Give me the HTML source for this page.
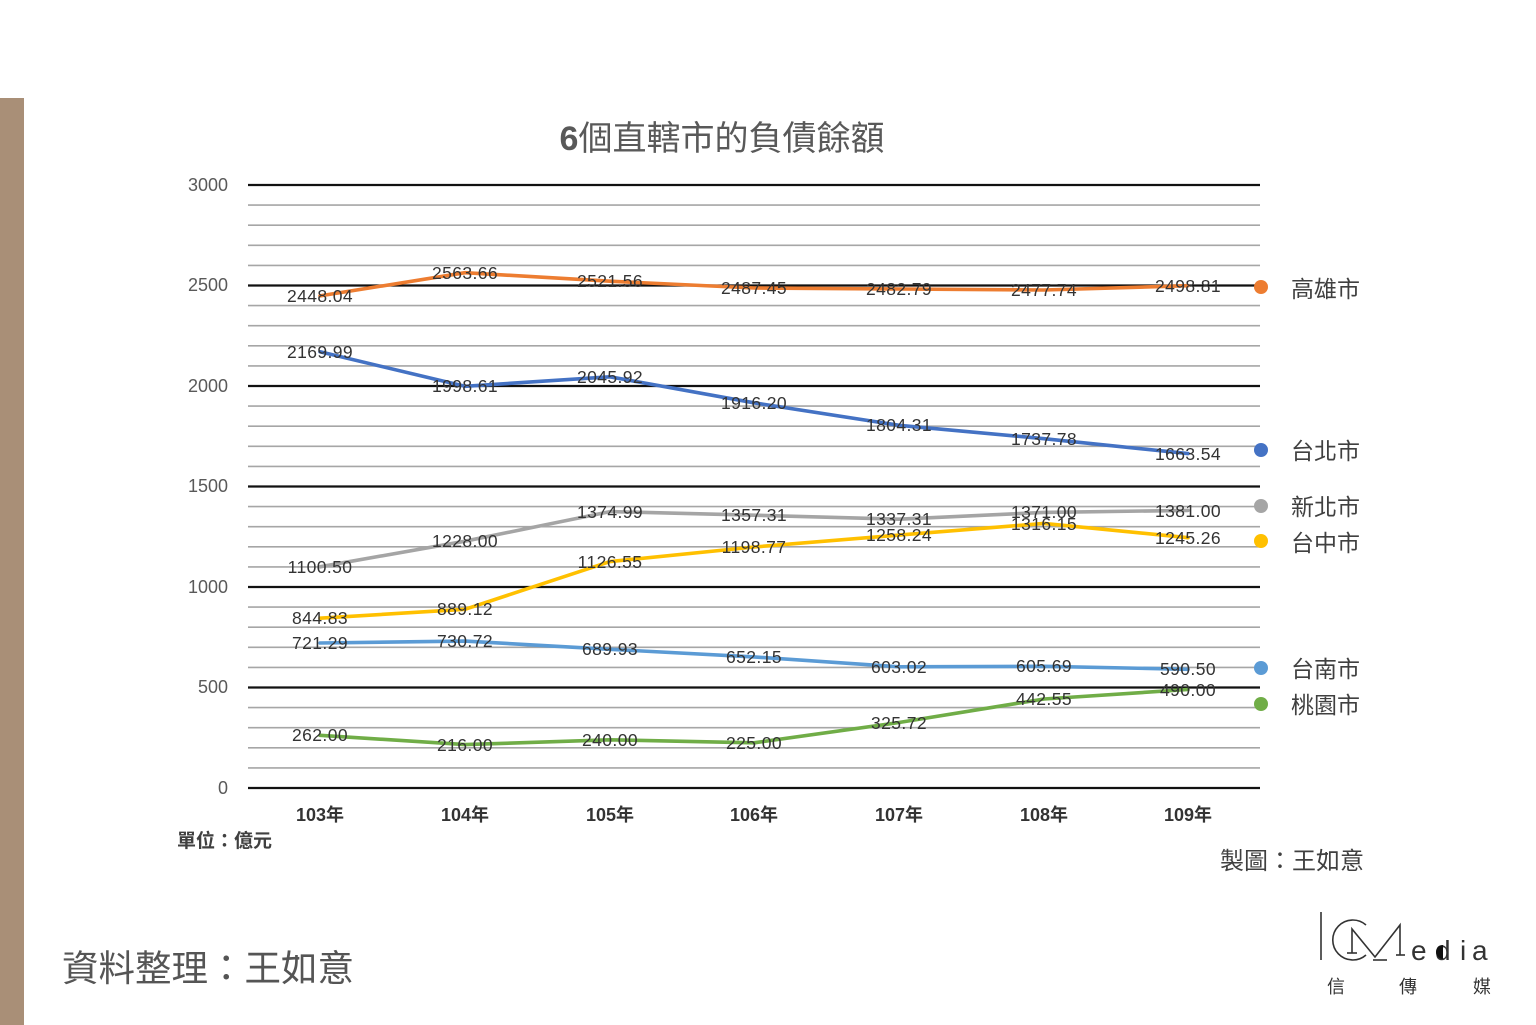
<!DOCTYPE html>
<html><head><meta charset="utf-8"><style>
html,body{margin:0;padding:0;background:#fff;}
svg{display:block;}
text{font-family:"Liberation Sans","Noto Sans CJK TC",sans-serif;}
</style></head><body>
<svg width="1536" height="1025" viewBox="0 0 1536 1025" xmlns="http://www.w3.org/2000/svg">
<rect x="0" y="0" width="1536" height="1025" fill="#fff"/>
<rect x="0" y="98" width="24" height="927" fill="#a98f77"/>

<!-- title -->
<text x="722" y="150" text-anchor="middle" font-size="34" fill="#595959"><tspan font-weight="bold">6</tspan>個直轄市的負債餘額</text>

<!-- minor gridlines -->
<g stroke="#a6a6a6" stroke-width="1.6">
<line x1="248" x2="1260" y1="767.9" y2="767.9"/><line x1="248" x2="1260" y1="747.8" y2="747.8"/><line x1="248" x2="1260" y1="727.7" y2="727.7"/><line x1="248" x2="1260" y1="707.6" y2="707.6"/>
<line x1="248" x2="1260" y1="667.4" y2="667.4"/><line x1="248" x2="1260" y1="647.3" y2="647.3"/><line x1="248" x2="1260" y1="627.2" y2="627.2"/><line x1="248" x2="1260" y1="607.1" y2="607.1"/>
<line x1="248" x2="1260" y1="566.9" y2="566.9"/><line x1="248" x2="1260" y1="546.8" y2="546.8"/><line x1="248" x2="1260" y1="526.7" y2="526.7"/><line x1="248" x2="1260" y1="506.6" y2="506.6"/>
<line x1="248" x2="1260" y1="466.4" y2="466.4"/><line x1="248" x2="1260" y1="446.3" y2="446.3"/><line x1="248" x2="1260" y1="426.2" y2="426.2"/><line x1="248" x2="1260" y1="406.1" y2="406.1"/>
<line x1="248" x2="1260" y1="365.9" y2="365.9"/><line x1="248" x2="1260" y1="345.8" y2="345.8"/><line x1="248" x2="1260" y1="325.7" y2="325.7"/><line x1="248" x2="1260" y1="305.6" y2="305.6"/>
<line x1="248" x2="1260" y1="265.4" y2="265.4"/><line x1="248" x2="1260" y1="245.3" y2="245.3"/><line x1="248" x2="1260" y1="225.2" y2="225.2"/><line x1="248" x2="1260" y1="205.1" y2="205.1"/>
</g>
<!-- major gridlines -->
<g stroke="#111" stroke-width="2.3">
<line x1="248" x2="1260" y1="788" y2="788"/><line x1="248" x2="1260" y1="687.5" y2="687.5"/><line x1="248" x2="1260" y1="587" y2="587"/>
<line x1="248" x2="1260" y1="486.5" y2="486.5"/><line x1="248" x2="1260" y1="386" y2="386"/><line x1="248" x2="1260" y1="285.5" y2="285.5"/><line x1="248" x2="1260" y1="185" y2="185"/>
</g>

<!-- y axis labels -->
<g font-size="18" fill="#595959" text-anchor="end">
<text x="228" y="191">3000</text><text x="228" y="291">2500</text><text x="228" y="392">2000</text>
<text x="228" y="492">1500</text><text x="228" y="593">1000</text><text x="228" y="693">500</text><text x="228" y="794">0</text>
</g>

<!-- x axis labels -->
<g font-size="18" fill="#333" text-anchor="middle" font-weight="bold">
<text x="320" y="821">103年</text><text x="465" y="821">104年</text><text x="610" y="821">105年</text>
<text x="754" y="821">106年</text><text x="899" y="821">107年</text><text x="1044" y="821">108年</text><text x="1188" y="821">109年</text>
</g>

<!-- series lines -->
<g fill="none" stroke-width="3.6" stroke-linejoin="round" stroke-linecap="round">
<polyline stroke="#ed7d31" points="320,295.9 465,272.7 610,281.2 754,288 899,289 1044,290 1188,285.7"/>
<polyline stroke="#4472c4" points="320,351.8 465,386.3 610,376.8 754,402.8 899,425.3 1044,438.7 1188,453.6"/>
<polyline stroke="#a5a5a5" points="320,566.8 465,541.2 610,511.6 754,515.2 899,519.2 1044,512.4 1188,510.4"/>
<polyline stroke="#ffc000" points="320,618.2 465,609.3 610,561.6 754,547 899,535.1 1044,523.4 1188,537.7"/>
<polyline stroke="#5b9bd5" points="320,643 465,641.1 610,649.3 754,656.9 899,666.8 1044,666.3 1188,669.3"/>
<polyline stroke="#70ad47" points="320,735.3 465,744.6 610,739.8 754,742.8 899,722.5 1044,699 1188,689.5"/>
</g>

<!-- data labels -->
<g font-size="17.5" fill="#333" text-anchor="middle" letter-spacing="0.4">
<text x="320" y="302">2448.04</text><text x="465" y="279">2563.66</text><text x="610" y="287">2521.56</text><text x="754" y="294">2487.45</text><text x="899" y="295">2482.79</text><text x="1044" y="296">2477.74</text><text x="1188" y="292">2498.81</text>
<text x="320" y="358">2169.99</text><text x="465" y="392">1998.61</text><text x="610" y="383">2045.92</text><text x="754" y="409">1916.20</text><text x="899" y="431">1804.31</text><text x="1044" y="445">1737.78</text><text x="1188" y="460">1663.54</text>
<text x="320" y="573">1100.50</text><text x="465" y="547">1228.00</text><text x="610" y="518">1374.99</text><text x="754" y="521">1357.31</text><text x="899" y="525">1337.31</text><text x="1044" y="518">1371.00</text><text x="1188" y="517">1381.00</text>
<text x="320" y="624">844.83</text><text x="465" y="615">889.12</text><text x="610" y="568">1126.55</text><text x="754" y="553">1198.77</text><text x="899" y="541">1258.24</text><text x="1044" y="530">1316.15</text><text x="1188" y="544">1245.26</text>
<text x="320" y="649">721.29</text><text x="465" y="647">730.72</text><text x="610" y="655">689.93</text><text x="754" y="663">652.15</text><text x="899" y="673">603.02</text><text x="1044" y="672">605.69</text><text x="1188" y="675">590.50</text>
<text x="320" y="741">262.00</text><text x="465" y="751">216.00</text><text x="610" y="746">240.00</text><text x="754" y="749">225.00</text><text x="899" y="729">325.72</text><text x="1044" y="705">442.55</text><text x="1188" y="696">490.00</text>
</g>

<!-- legend -->
<circle cx="1261" cy="287" r="7" fill="#ed7d31"/>
<circle cx="1261" cy="450" r="7" fill="#4472c4"/>
<circle cx="1261" cy="506" r="7" fill="#a5a5a5"/>
<circle cx="1261" cy="541" r="7" fill="#ffc000"/>
<circle cx="1261" cy="668" r="7" fill="#5b9bd5"/>
<circle cx="1261" cy="704" r="7" fill="#70ad47"/>
<g font-size="23" fill="#404040">
<text x="1291" y="297">高雄市</text>
<text x="1291" y="459">台北市</text>
<text x="1291" y="515">新北市</text>
<text x="1291" y="551">台中市</text>
<text x="1291" y="677">台南市</text>
<text x="1291" y="713">桃園市</text>
</g>

<!-- notes -->
<text x="177" y="847" font-size="19" fill="#404040" font-weight="bold">單位：億元</text>
<text x="1220" y="869" font-size="24" fill="#404040">製圖：王如意</text>
<text x="62" y="981" font-size="36.5" fill="#555">資料整理：王如意</text>

<!-- logo -->
<g stroke="#333" fill="none" stroke-width="1.6">
<line x1="1321" y1="912" x2="1321" y2="960"/>
<path d="M1366,925 A20,20 0 1,0 1366,955"/>
<polyline points="1352,953 1352,929 1375,957 1400,925 1400,955"/>
<line x1="1373" y1="960" x2="1387" y2="960"/>
<line x1="1347" y1="953" x2="1357" y2="953"/>
<line x1="1396" y1="955" x2="1405" y2="955"/>
</g>
<g font-size="28" fill="#333">
<text x="1411" y="960">e</text>
<text x="1435" y="960">d</text>
<text x="1460" y="960">i</text>
<text x="1472" y="960">a</text>
</g>
<path d="M1443,945 A7,7 0 0,0 1443,959 Z" fill="#111"/>
<g font-size="18" fill="#333" text-anchor="middle">
<text x="1336" y="993">信</text>
<text x="1408" y="993">傳</text>
<text x="1482" y="993">媒</text>
</g>
</svg>
</body></html>
